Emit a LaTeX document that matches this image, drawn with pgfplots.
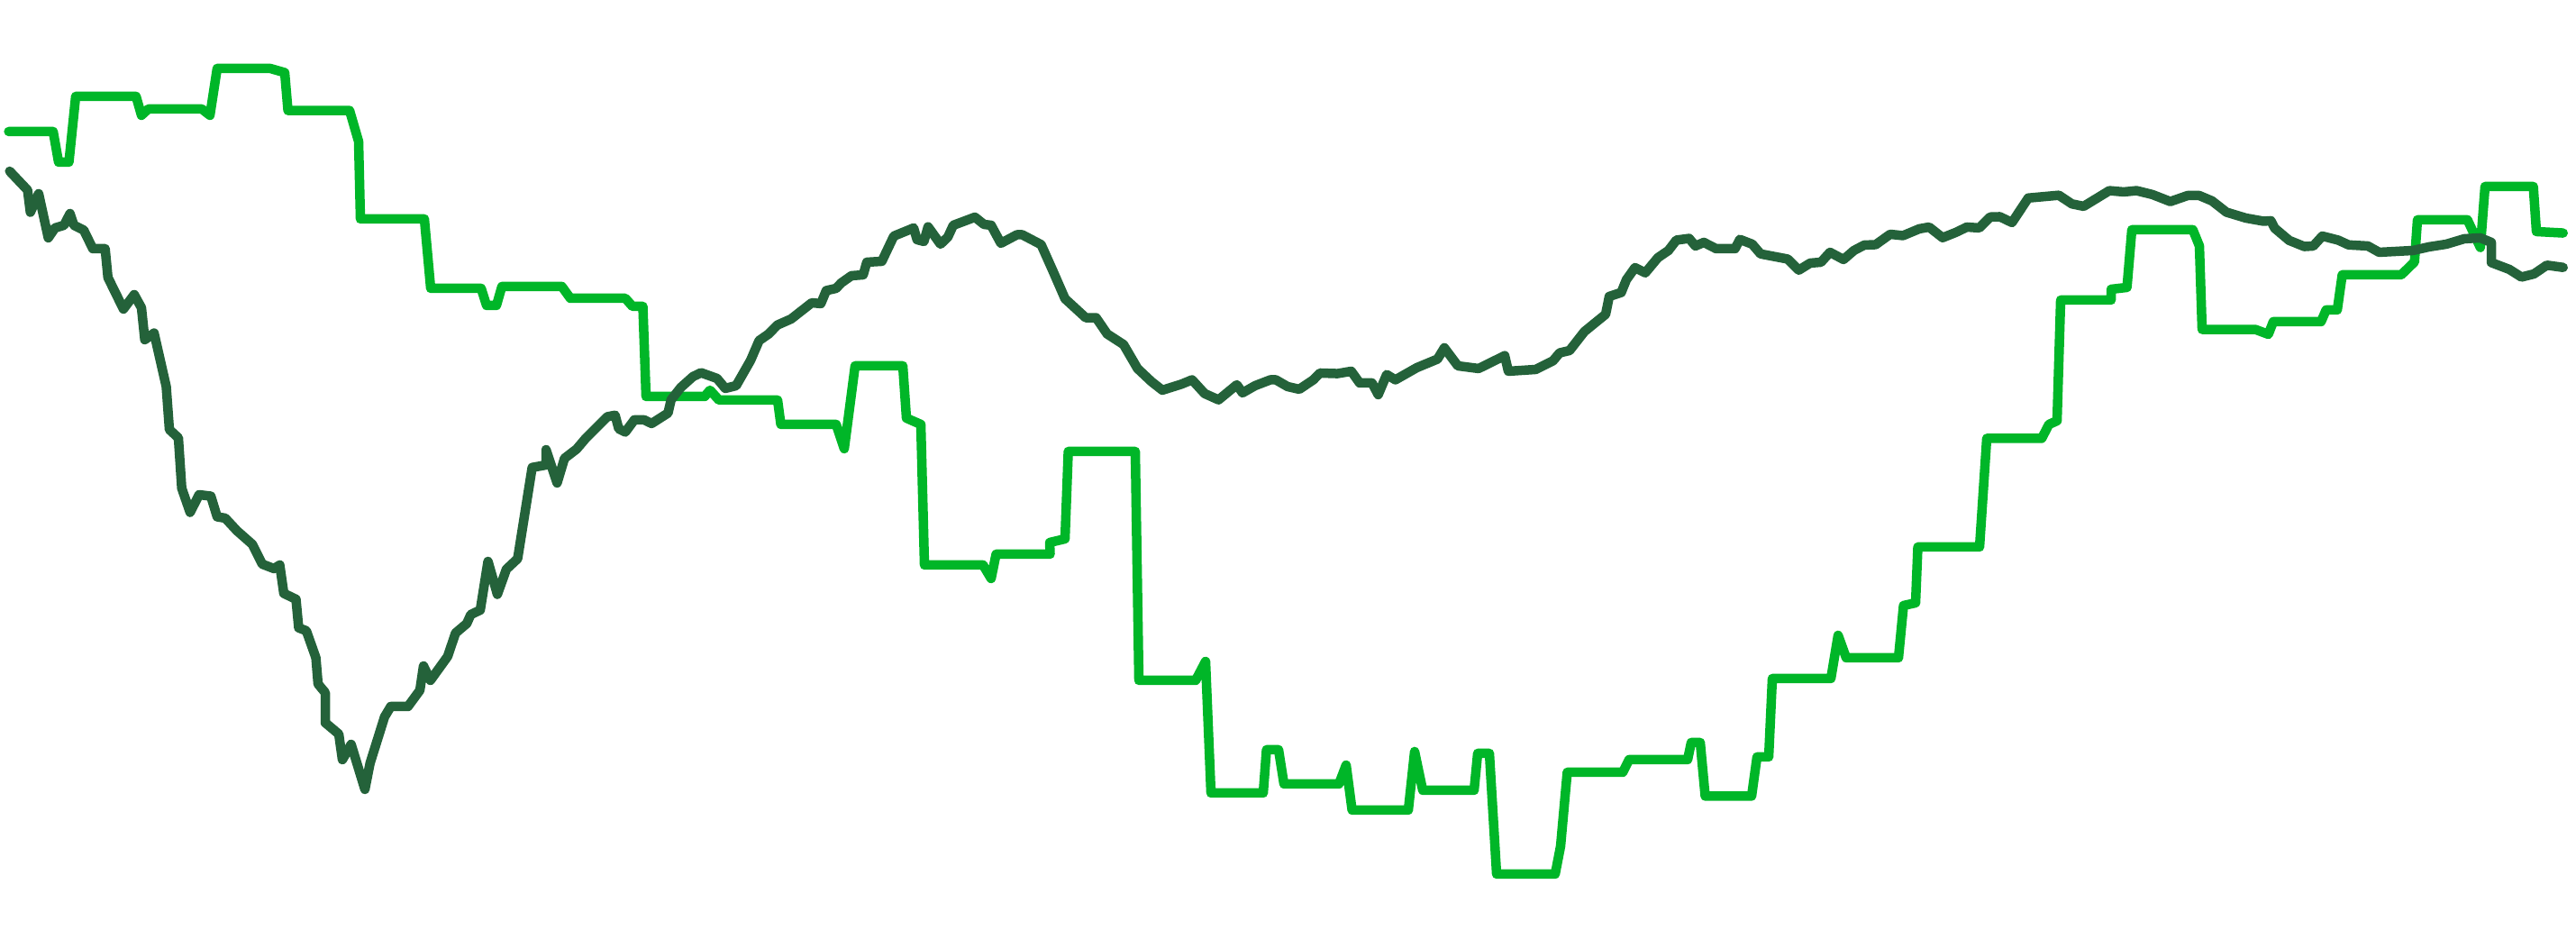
\documentclass[border=0pt]{standalone}
\usepackage{pgfplots}
\pgfplotsset{compat=1.18}
\definecolor{lightg}{RGB}{0,182,40}
\definecolor{darkg}{RGB}{36,98,58}
\begin{document}
\begin{tikzpicture}
\begin{axis}[
  scale only axis, width=285.9pt, height=103.2pt,
  xmin=0, xmax=2859, ymin=0, ymax=1032, y dir=reverse,
  hide axis, clip=false,
]
\addplot[lightg, line width=1.05pt, line join=round, line cap=round] coordinates {
(9.6,146)(59,146)(65,180)(76.5,180)(84,107)(151,107)(157,128)(164.6,121)(224,121)(233,128)(241,76)(300,76)(316,80.6)(319.6,122.7)(388,122.7)(398,157)(400,243)(471,243)(478,320)(534,320)(540,339)(551,339)(557,318)(623.6,318)(633,331)(694,331)(702,340)(713.5,340)(717,440)(782,440)(788,433)(798,444)(863,444)(866.6,471)(928,471)(937,498)(949,406)(1002,406)(1006,464)(1022,471)(1026,627)(1091,627)(1100,642)(1105.5,615)(1165.5,615)(1165,602)(1182,598)(1185.6,501)(1260,501)(1264,755)(1327,755)(1338,734)(1344,880)(1402,880)(1405.6,832)(1419,832)(1425,870)(1486,870)(1494,849)(1500.6,899)(1563,899)(1570,834)(1579,877)(1636,877)(1640,836)(1653,836)(1661,970)(1726,970)(1732,939)(1739.4,857)(1801,857)(1808,843)(1873,843)(1877,824)(1887,824)(1892.5,883.5)(1944,883.5)(1950,840)(1963,840)(1967,753)(2032,753)(2040,705)(2049,730)(2107,730)(2112.6,672)(2126,669)(2128.5,607)(2197,607)(2205,486.5)(2266,486.5)(2274,471)(2283,467)(2287,333)(2343,333)(2343,321)(2360.6,319)(2366,255)(2433.7,255)(2441,273)(2444,365.6)(2503,365.6)(2517.5,371)(2523,357)(2576,357)(2581.6,344)(2594,344)(2599.5,305)(2665,305)(2679.7,290.7)(2683,244)(2738.5,244)(2752.8,274.7)(2758,207)(2811.6,207)(2815,257)(2844.7,258.6)
};
\addplot[darkg, line width=1.05pt, line join=round, line cap=round] coordinates {
(10.7,190)(30.6,211)(33.7,235.6)(42.9,215)(53.6,264)(61,253)(71,250)(77.7,237)(82,250)(93,255.5)(103,276)(116.7,276)(119.8,308)(137,343)(149,327)(157,341.6)(160.7,377)(171,369.6)(184.5,429)(188,476.7)(198,486)(201.7,541.8)(211,568.6)(221,549)(234,550.6)(241,573.5)(250,575)(263,589)(280,604)(291,626)(304,631)(310.5,627)(315,658.5)(328.5,665)(331.5,696.7)(340,700)(350.6,730)(353,759)(361,768.7)(361,802)(376,814.6)(380,843)(389.7,826)(405,876)(410.7,847)(426.8,795.5)(433.7,784)(452.8,784)(466,766)(470,739)(477.7,755)(496.8,728.5)(505.6,702.5)(518,692)(522.5,682)(533,677)(541.6,623)(552,659.6)(562,631.7)(574.5,620)(590.6,518.8)(606,516)(606,499)(618.3,536)(626.5,508.7)(640,498.3)(650,486.5)(674,462.5)(682.7,460.8)(686.7,475.8)(694,479.5)(704,466)(715,466)(723.2,470)(741.4,458.4)(744.8,443.7)(755.6,430)(769,418)(778,413.6)(795.8,420)(805,431)(817,428)(833,400)(842.5,378)(853,370.7)(862.8,360.7)(878,354)(901,336)(911,337)(917,322.5)(928,320)(933.6,314)(945,306)(958,305)(962,291)(978.7,290)(992,262)(1014,253)(1017.8,266)(1025.4,268)(1030,251.7)(1043.8,271)(1052,263)(1058,250)(1082,241)(1092,249)(1100,250)(1110.8,270)(1128.7,260.5)(1134.5,260.5)(1155.5,271.5)(1168.7,301)(1182,331.5)(1205,352.6)(1216.5,352.6)(1228.8,370.6)(1247,382.4)(1262.5,409)(1277.8,423.4)(1290,433)(1311,426.4)(1323,421.5)(1337,436.8)(1352.4,443.7)(1372.7,427)(1379,436)(1393,428)(1410,421.5)(1416,421.5)(1429,429)(1442,432)(1457.6,421.5)(1465,414)(1484.4,414.6)(1499.7,412)(1509,425)(1522.7,425)(1529.6,438)(1539,415.7)(1548.7,421.5)(1572.5,408)(1595.4,398.5)(1603,386)(1618,406)(1641,409)(1670,394.7)(1674,412)(1704.5,410)(1723.6,400.4)(1731,391.6)(1742,389)(1758.4,368)(1782,348.8)(1786,329)(1799.3,324.6)(1805,310.5)(1814.6,297)(1826,302.8)(1840,286)(1851.7,278)(1860.5,266.5)(1874.7,264.6)(1881.6,273)(1891,269)(1904.6,276)(1925.6,276)(1931,265.7)(1944.7,271)(1954,281.8)(1984,287.5)(1996.4,299.8)(2009,292)(2021,291)(2031,280)(2046,288)(2057.6,278)(2069,272)(2081.7,271.5)(2097.8,260)(2112,261.5)(2130,254)(2141,252)(2156,263.8)(2170.5,258)(2183,252)(2196.6,253)(2208.8,240.8)(2219.5,240.5)(2233,247)(2251,219.8)(2285,216.7)(2299.5,226.3)(2312.5,229)(2341,211.6)(2357,213)(2371.3,211.6)(2389,216)(2408.7,223.7)(2428,217)(2440.8,217)(2455,223)(2471,235.5)(2492.5,242)(2512,245.5)(2520.3,245)(2524.6,253.3)(2540.6,266.8)(2557.4,273.6)(2567.4,273)(2577.4,262)(2595,266.5)(2606.6,271.8)(2628,273)(2640.5,280)(2678,278)(2695.7,274)(2715,271)(2735,265)(2752.8,264)(2765,269)(2765,291.4)(2785,299)(2798.4,307.5)(2812.3,304)(2826.6,294.3)(2844.7,296.8)
};
\coordinate (bl) at (rel axis cs:0,0);
\coordinate (tr) at (rel axis cs:1,1);
\end{axis}
\pgfresetboundingbox
\path[use as bounding box] (bl) rectangle (tr);
\end{tikzpicture}
\end{document}
